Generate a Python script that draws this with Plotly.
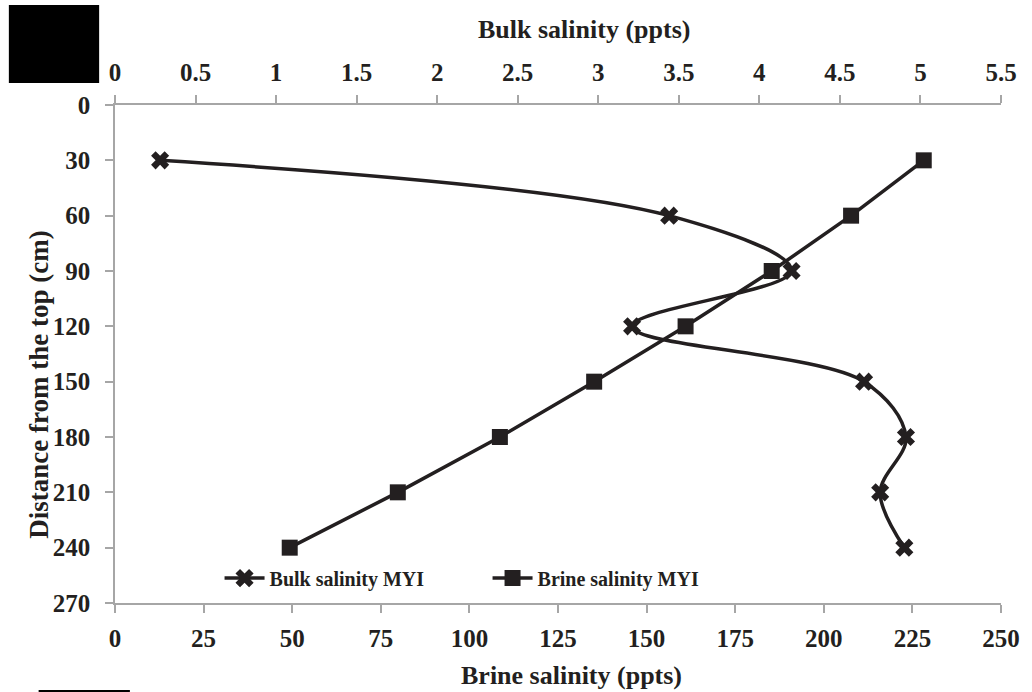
import plotly.graph_objects as go

# Depth below the ice surface (cm)
depth_cm = [30, 60, 90, 120, 150, 180, 210, 240]

# Bulk salinity of multi-year ice (ppts), top axis
bulk_salinity = [0.28, 3.44, 4.20, 3.21, 4.65, 4.91, 4.75, 4.90]

# Brine salinity of multi-year ice (ppts), bottom axis
brine_salinity = [228.2, 207.7, 185.3, 161.0, 135.2, 108.6, 79.8, 49.3]

y_ticks = [0, 30, 60, 90, 120, 150, 180, 210, 240, 270]

INK = "#231f20"
AXIS = "#a6a6a6"
FONT = "Liberation Serif"

fig = go.Figure()

fig.add_trace(go.Scatter(
    x=bulk_salinity, y=depth_cm, xaxis="x2", yaxis="y",
    name="Bulk salinity MYI",
    mode="lines+markers",
    line=dict(color=INK, width=3.5, shape="spline", smoothing=1.0),
    marker=dict(symbol="x", size=16, color=INK),
))

fig.add_trace(go.Scatter(
    x=brine_salinity, y=depth_cm, xaxis="x", yaxis="y",
    name="Brine salinity MYI",
    mode="lines+markers",
    line=dict(color=INK, width=3.5),
    marker=dict(symbol="square", size=16, color=INK),
))

tick_font = dict(family=FONT, size=25, color=INK, weight="bold")
title_font = dict(family=FONT, size=26, color=INK)

fig.update_layout(
    width=1032, height=692,
    margin=dict(l=115, r=24, t=105, b=89),
    paper_bgcolor="white", plot_bgcolor="white",
    font=dict(family=FONT, color=INK),
    showlegend=True,
    legend=dict(
        orientation="h",
        x=0.118, y=0.05, xanchor="left", yanchor="middle",
        font=dict(family=FONT, size=20, color=INK, weight="bold"),
        itemwidth=40, entrywidth=213, entrywidthmode="pixels",
        bgcolor="rgba(0,0,0,0)",
    ),
    xaxis=dict(
        range=[0, 250], dtick=25, tick0=0,
        side="bottom",
        showline=True, linecolor=AXIS, linewidth=1.5,
        ticks="outside", ticklen=8, tickcolor=AXIS, tickwidth=1.5,
        showgrid=False, zeroline=False,
        tickfont=tick_font, ticklabelstandoff=4,
    ),
    xaxis2=dict(
        range=[0, 5.5], dtick=0.5, tick0=0,
        overlaying="x", side="top", anchor="y",
        showline=True, linecolor=AXIS, linewidth=1.5,
        ticks="outside", ticklen=8, tickcolor=AXIS, tickwidth=1.5,
        showgrid=False, zeroline=False,
        tickfont=tick_font, ticklabelstandoff=4,
    ),
    yaxis=dict(
        range=[270, 0], tickvals=y_ticks,
        showline=True, linecolor=AXIS, linewidth=1.5,
        ticks="outside", ticklen=8, tickcolor=AXIS, tickwidth=1.5,
        showgrid=False, zeroline=False,
        tickfont=tick_font, ticklabelstandoff=10,
    ),
    annotations=[
        dict(text="<b>Bulk salinity (ppts)</b>", xref="paper", yref="paper",
             x=0.529, y=1.151, xanchor="center", yanchor="middle",
             showarrow=False, font=title_font),
        dict(text="<b>Brine salinity (ppts)</b>", xref="paper", yref="paper",
             x=0.515, y=-0.145, xanchor="center", yanchor="middle",
             showarrow=False, font=title_font),
        dict(text="<b>Distance from the top (cm)</b>", xref="paper", yref="paper",
             x=-0.086, y=0.438, xanchor="center", yanchor="middle", textangle=-90,
             showarrow=False, font=dict(family=FONT, size=27, color=INK)),
    ],
    shapes=[
        dict(type="rect", xref="paper", yref="paper",
             x0=-0.1198, x1=-0.0179, y0=1.0442, y1=1.2008,
             fillcolor="black", line=dict(width=0)),
        dict(type="line", xref="paper", yref="paper",
             x0=-0.0862, x1=0.0168, y0=-0.1767, y1=-0.1767,
             line=dict(color="black", width=2)),
    ],
)

fig.write_html("out.html")
